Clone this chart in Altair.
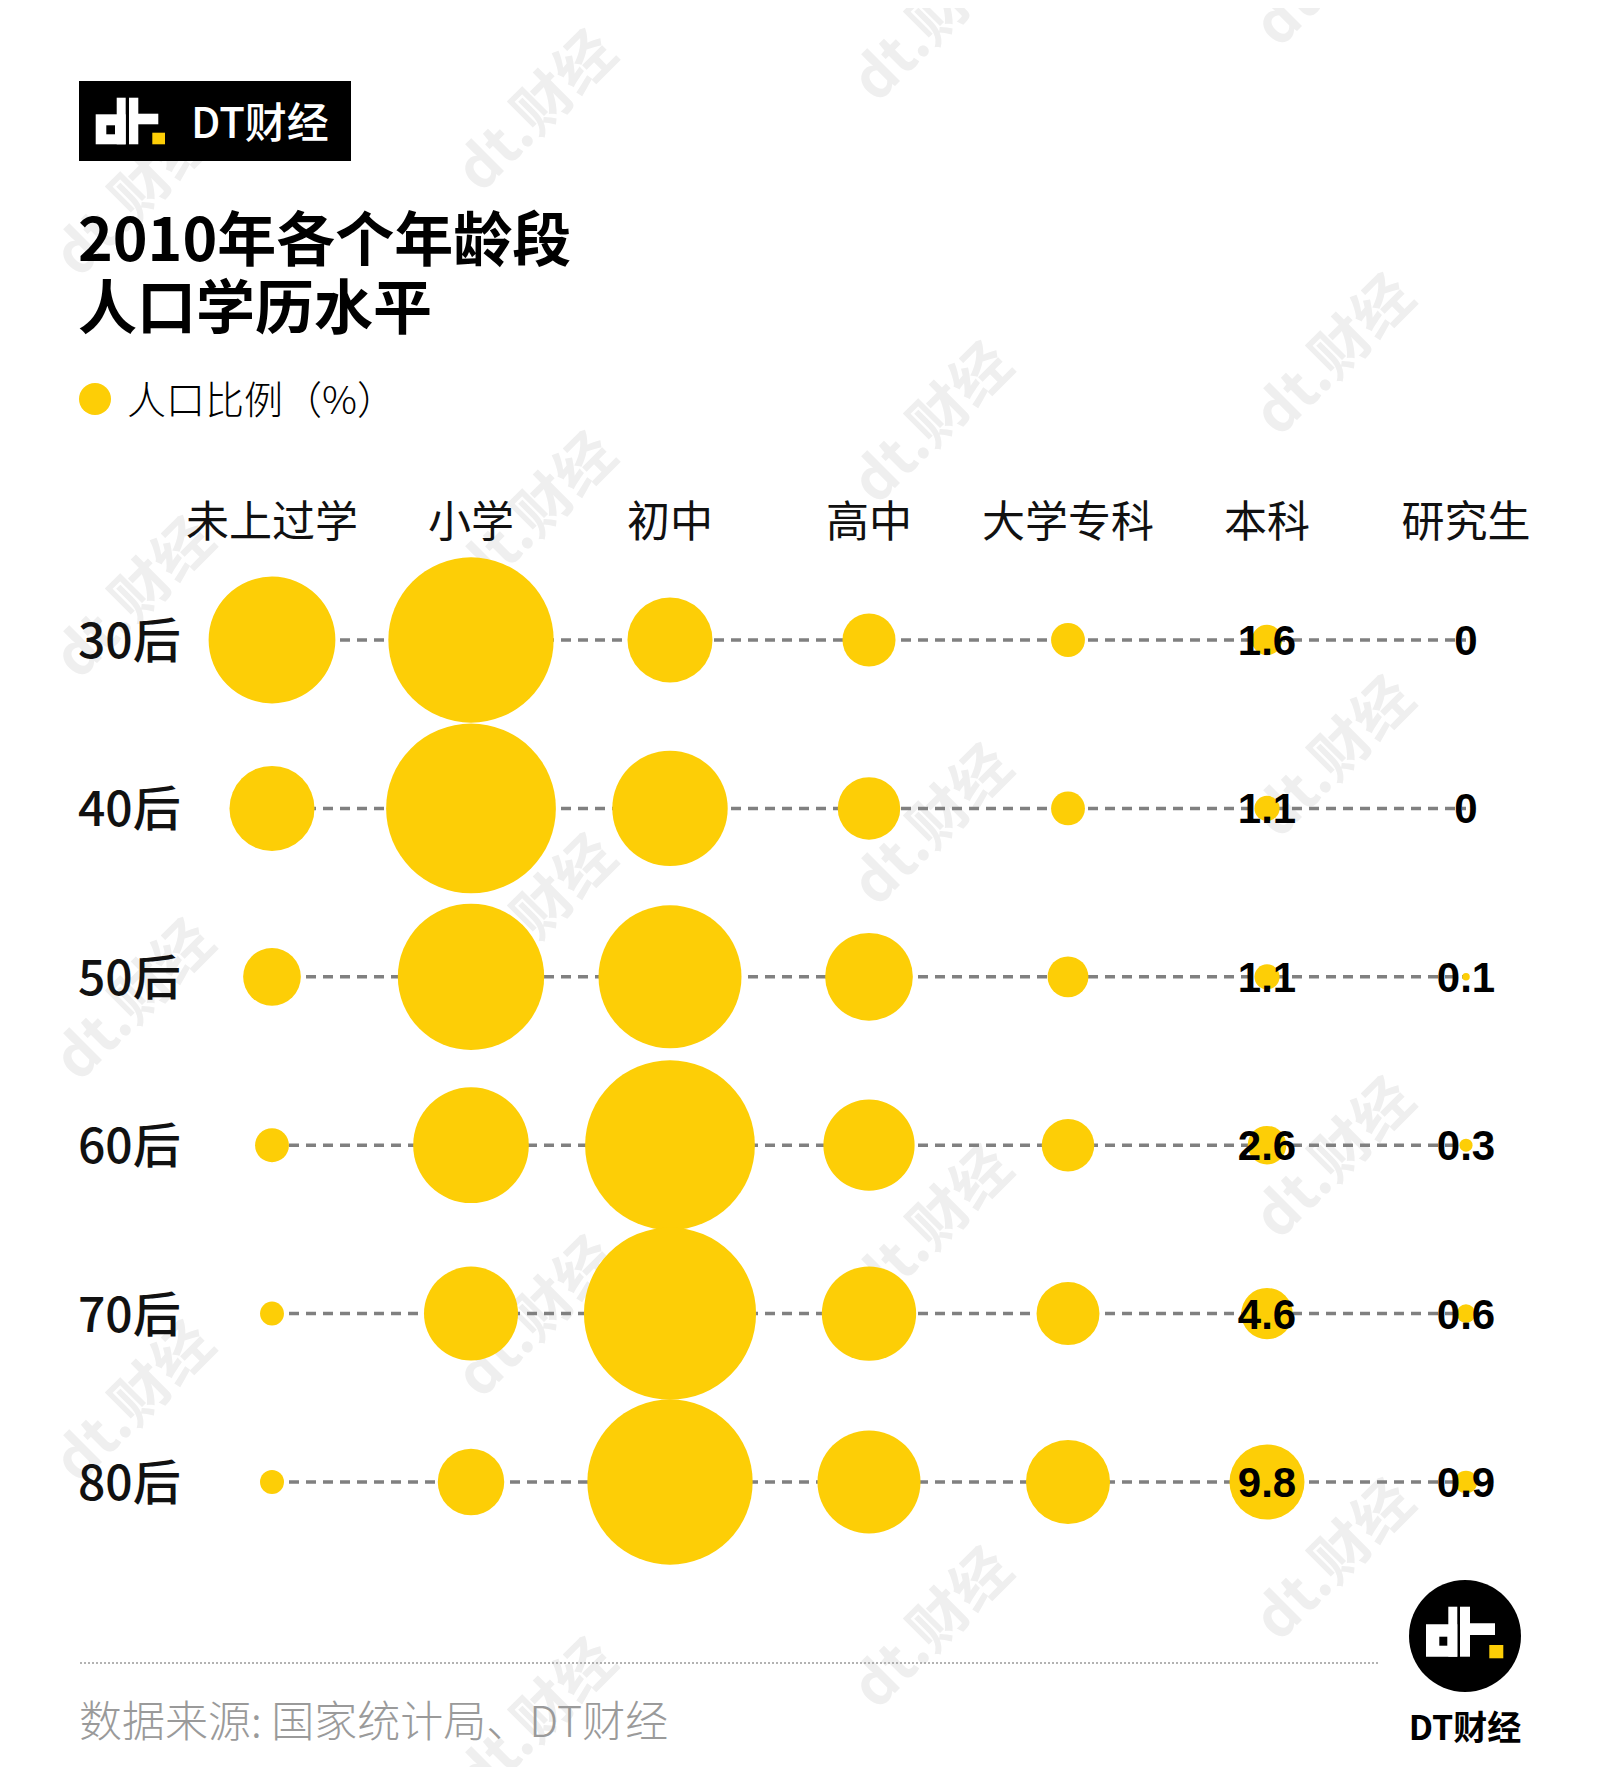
import altair as alt
import pandas as pd

# ---------------- data ----------------
edu = ["未上过学", "小学", "初中", "高中", "大学专科", "本科", "研究生"]
ages = ["30后", "40后", "50后", "60后", "70后", "80后"]
v30 = [28.0, 47.6, 12.6, 4.9, 2.0, 1.6, 0]
v40 = [12.6, 50.2, 23.2, 6.8, 2.0, 1.1, 0]
v50 = [5.8, 37.3, 35.6, 13.4, 2.9, 1.1, 0.1]
v60 = [2.0, 23.3, 50.2, 14.5, 4.8, 2.6, 0.3]
v70 = [1.0, 15.4, 51.6, 15.5, 6.9, 4.6, 0.6]
v80 = [1.0, 7.7, 47.6, 18.5, 12.3, 9.8, 0.9]
labelled = ["本科", "研究生"]

values = [v30, v40, v50, v60, v70, v80]
rows = []
for a, vals in zip(ages, values):
    for e, v in zip(edu, vals):
        lab = ("0" if v == 0 else f"{v:.1f}") if e in labelled else ""
        rows.append({"age": a, "edu": e, "value": v, "label": lab})
df = pd.DataFrame(rows)

CJK = "Noto Sans CJK SC, sans-serif"
YELLOW = "#FDCE06"

xs = alt.Scale(type="point", domain=edu, range=[264, 1458], padding=0)
ys = alt.Scale(type="point", domain=ages, range=[632, 1474], padding=0)
X = lambda f: alt.X(f, scale=xs, axis=None)
Y = lambda f: alt.Y(f, scale=ys, axis=None)

one = pd.DataFrame({"k": [0]})


def txt(text, x, y, **kw):
    d = pd.DataFrame({"t": [text]})
    opts = dict(align="left", baseline="middle", font=CJK, color="#000")
    opts.update(kw)
    return alt.Chart(d).mark_text(**opts).encode(
        x=alt.value(x), y=alt.value(y), text="t:N")


def rect(x1, y1, x2, y2, color):
    return alt.Chart(one).mark_rect(color=color).encode(
        x=alt.value(x1), x2=alt.value(x2), y=alt.value(y1), y2=alt.value(y2))


def logo(ox, oy, parts):
    return [rect(ox + a, oy + b, ox + c, oy + d, col) for (a, b, c, d, col) in parts]


layers = []

# faint watermarks (behind everything)
wm_x = [128, 128, 128, 128,
        530, 530, 530, 530, 530,
        926, 926, 926, 926, 926,
        1328, 1328, 1328, 1328, 1328]
wm_y = [190, 592, 994, 1396,
        105, 507, 909, 1311, 1713,
        15, 417, 819, 1220, 1622,
        -40, 349, 751, 1152, 1554]
for wx, wy in zip(wm_x, wm_y):
    layers.append(txt("dt.财经", wx, wy, fontSize=58, fontWeight="bold", align="center",
                      angle=315, color="#efefef"))

# top-left black logo box
layers.append(rect(71, 73, 343, 153, "#000"))
layers += logo(-8, -8, [
    (95.7, 114.3, 125.7, 144.3, "#fff"),
    (116.7, 97.7, 125.7, 144.3, "#fff"),
    (106.3, 125.3, 115.0, 134.3, "#000"),
    (129.0, 97.7, 138.3, 144.3, "#fff"),
    (129.0, 113.7, 158.3, 124.3, "#fff"),
    (152.3, 132.7, 165.0, 144.3, YELLOW),
])
layers.append(txt("DT财经", 183, 117, fontSize=42, color="#fff", fontWeight=500))

# title
layers.append(txt("2010年各个年龄段", 70, 235, fontSize=59, fontWeight="bold"))
layers.append(txt("人口学历水平", 70, 303, fontSize=59, fontWeight="bold"))

# legend (Vega circle: diameter = sqrt(size))
layers.append(alt.Chart(one).mark_circle(color=YELLOW, opacity=1, size=1024).encode(
    x=alt.value(87), y=alt.value(391)))
layers.append(txt("人口比例（%）", 119, 394, fontSize=39, fontWeight=300))

# column headers
layers.append(alt.Chart(pd.DataFrame({"edu": edu})).mark_text(
    font=CJK, fontSize=43, baseline="middle", align="center", color="#111"
).encode(x=X("edu:N"), y=alt.value(516), text="edu:N"))

# row labels
layers.append(alt.Chart(pd.DataFrame({"age": ages})).mark_text(
    font=CJK, fontSize=48, baseline="middle", align="left", color="#111", dy=4, fontWeight=500
).encode(x=alt.value(70), y=Y("age:N"), text="age:N"))

# dashed connector lines
rule_df = pd.DataFrame({"age": ages, "start": edu[0], "end": edu[-1]})
layers.append(alt.Chart(rule_df).mark_rule(
    color="#808080", strokeWidth=3.5, strokeDash=[10, 7]
).encode(x=X("start:N"), x2=alt.X2("end"), y=Y("age:N")))

# bubbles (area proportional to value)
layers.append(alt.Chart(df).mark_circle(color=YELLOW, opacity=1).encode(
    x=X("edu:N"), y=Y("age:N"),
    size=alt.Size("value:Q",
                  scale=alt.Scale(type="linear", domain=[0, 60], range=[0, 34446],
                                  nice=False, zero=True),
                  legend=None)))

# value labels
layers.append(alt.Chart(df[df["label"] != ""]).mark_text(
    font="Liberation Sans, Arial, sans-serif", fontWeight="bold", fontSize=42,
    color="#000", baseline="middle", align="center", dy=2
).encode(x=X("edu:N"), y=Y("age:N"), text="label:N"))

# bottom dotted line + source
layers.append(alt.Chart(one).mark_rule(color="#9a9a9a", strokeWidth=1.5, strokeDash=[2, 2]).encode(
    x=alt.value(72), x2=alt.value(1372), y=alt.value(1655)))
layers.append(txt("数据来源: 国家统计局、DT财经", 71, 1716, fontSize=43, fontWeight=300, color="#9a9a9a"))

# bottom-right round logo
layers.append(alt.Chart(one).mark_circle(color="#000", opacity=1, size=12544).encode(
    x=alt.value(1457), y=alt.value(1628)))
layers += logo(-8, -8, [
    (1426.0, 1624.3, 1457.3, 1656.7, "#fff"),
    (1448.3, 1606.7, 1457.3, 1656.7, "#fff"),
    (1439.3, 1636.7, 1447.3, 1645.7, "#000"),
    (1460.0, 1606.7, 1470.0, 1656.7, "#fff"),
    (1460.0, 1623.3, 1495.0, 1635.0, "#fff"),
    (1489.3, 1645.0, 1503.3, 1658.3, YELLOW),
])
layers.append(txt("DT财经", 1457, 1722, fontSize=34, fontWeight="bold", align="center"))

chart = alt.layer(*layers).properties(
    width=1585, height=1759, padding=0,
    autosize=alt.AutoSizeParams(type="none"),
    background="#ffffff",
).configure_view(stroke=None)

chart.save("out.html", embed_options={"renderer": "svg", "actions": False})
